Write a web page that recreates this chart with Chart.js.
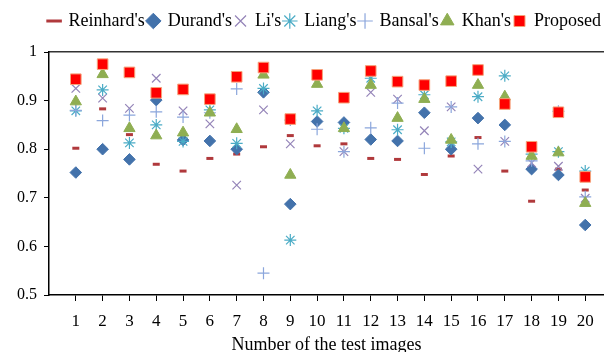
<!DOCTYPE html>
<html>
<head>
<meta charset="utf-8">
<script src="https://cdn.jsdelivr.net/npm/chart.js@4.4.1/dist/chart.umd.min.js"></script>
<style>
html,body{margin:0;padding:0;background:#fff;}
#wrap{width:604px;height:352px;position:relative;}
</style>
</head>
<body>
<div id="wrap"><canvas id="c" width="604" height="352"></canvas></div>
<script>
const categories = ['1','2','3','4','5','6','7','8','9','10','11','12','13','14','15','16','17','18','19','20'];
const yTickLabels = ['0.5','0.6','0.7','0.8','0.9','1'];
const reinhard = [0.802,0.883,0.830,0.769,0.755,0.781,0.790,0.805,0.828,0.807,0.811,0.781,0.779,0.748,0.786,0.824,0.755,0.693,0.759,0.716];
const durand   = [0.752,0.800,0.779,0.901,0.819,0.817,0.800,0.917,0.687,0.857,0.855,0.820,0.817,0.875,0.800,0.864,0.850,0.759,0.747,0.644];
const li       = [0.925,0.905,0.884,0.946,0.879,0.852,0.726,0.881,0.811,0.938,0.795,0.917,0.903,0.838,0.887,0.759,0.816,0.772,0.765,0.699];
const liang    = [0.879,0.922,0.813,0.850,0.816,0.881,0.812,0.925,0.613,0.879,0.843,0.946,0.840,0.912,0.815,0.908,0.951,0.790,0.795,0.755];
const bansal   = [0.880,0.859,0.870,0.877,0.866,0.875,0.924,0.545,0.860,0.841,0.795,0.844,0.895,0.802,0.887,0.811,0.816,0.776,0.878,0.702];
const khan     = [0.898,0.954,0.843,0.828,0.834,0.875,0.841,0.953,0.747,0.934,0.843,0.932,0.864,0.903,0.819,0.932,0.908,0.786,0.793,0.689];
const proposed = [0.944,0.975,0.958,0.916,0.923,0.903,0.949,0.968,0.862,0.953,0.906,0.961,0.939,0.932,0.940,0.963,0.893,0.805,0.876,0.743];

function pts(arr){ return arr.map((v,i)=>({x:i+1,y:v})); }

const serif = "'Liberation Serif','DejaVu Serif',serif";

const datasets = [
  {label:"Reinhard's", data:pts(reinhard), pointStyle:'line', radius:3.5, borderWidth:3, borderColor:'#b0393c', backgroundColor:'#b0393c', order:6},
  {label:"Durand's", data:pts(durand), pointStyle:'rectRot', radius:5.8, borderWidth:1, borderColor:'#4372ab', backgroundColor:'#4372ab', order:5},
  {label:"Li's", data:pts(li), pointStyle:'crossRot', radius:6, borderWidth:1.2, borderColor:'#9484b8', backgroundColor:'#9484b8', order:4},
  {label:"Liang's", data:pts(liang), pointStyle:'star', radius:6, borderWidth:1.2, borderColor:'#4bacc6', backgroundColor:'#4bacc6', order:3},
  {label:"Bansal's", data:pts(bansal), pointStyle:'cross', radius:6, borderWidth:1.2, borderColor:'#8ba6dc', backgroundColor:'#8ba6dc', order:2},
  {label:"Khan's", data:pts(khan), pointStyle:'triangle', radius:6.5, borderWidth:1, borderColor:'#8fae52', backgroundColor:'#8fae52', order:1},
  {label:"Proposed", data:pts(proposed), pointStyle:'rect', radius:7.5, borderWidth:1, borderColor:'#f6a27a', backgroundColor:'#ff0000', order:0}
];

const legendHeight = {
  id:'legendHeight',
  beforeInit(chart){
    const orig = chart.legend.fit;
    chart.legend.fit = function(){ orig.bind(chart.legend)(); this.height = 43; };
  }
};

new Chart(document.getElementById('c'), {
  type:'scatter',
  data:{datasets},
  plugins:[legendHeight],
  options:{
    responsive:false,
    animation:false,
    layout:{autoPadding:false, padding:{left:0,right:0,top:9,bottom:0}},
    plugins:{
      tooltip:{enabled:false},
      legend:{
        position:'top', align:'end',
        labels:{usePointStyle:true, boxWidth:11, boxHeight:11, padding:3, color:'#000',
          font:{family:serif, size:18},
          sort:(a,b)=>a.datasetIndex-b.datasetIndex}
      }
    },
    scales:{
      x:{
        type:'linear', min:0, max:20.7,
        afterBuildTicks(s){ s.ticks = categories.map((c,i)=>({value:i+1})); },
        afterFit(s){ s.height = 57; s.paddingRight = 0; s.paddingLeft = 0; },
        ticks:{autoSkip:false, maxRotation:0, color:'#000', font:{family:serif, size:17}, padding:10,
          callback(v){ return categories[Math.round(v)-1] || ''; }},
        grid:{display:true, drawOnChartArea:false, drawTicks:true, tickLength:6, color:'#000'},
        border:{display:true, color:'#000', width:1.5},
        title:{display:true, text:'Number of the test images', color:'#000', font:{family:serif, size:18}, padding:{top:0,bottom:-4}}
      },
      xTop:{
        type:'linear', position:'top', min:0, max:20.7,
        ticks:{display:false}, grid:{display:false},
        border:{display:true, color:'#333', width:1.5},
        afterFit(s){ s.height = 0; s.paddingRight = 0; s.paddingLeft = 0; }
      },
      y:{
        min:0.5, max:1,
        afterBuildTicks(s){ s.ticks = yTickLabels.map(t=>({value:parseFloat(t)})); },
        afterFit(s){ s.width = 49; },
        ticks:{color:'#000', font:{family:serif, size:16}, padding:7,
          callback(v){ const i = yTickLabels.findIndex(t=>Math.abs(parseFloat(t)-v)<1e-6); return i>=0 ? yTickLabels[i] : ''; }},
        grid:{display:true, drawOnChartArea:false, drawTicks:true, tickLength:5, color:'#000'},
        border:{display:true, color:'#000', width:1.5}
      }
    }
  }
});
</script>
</body>
</html>
